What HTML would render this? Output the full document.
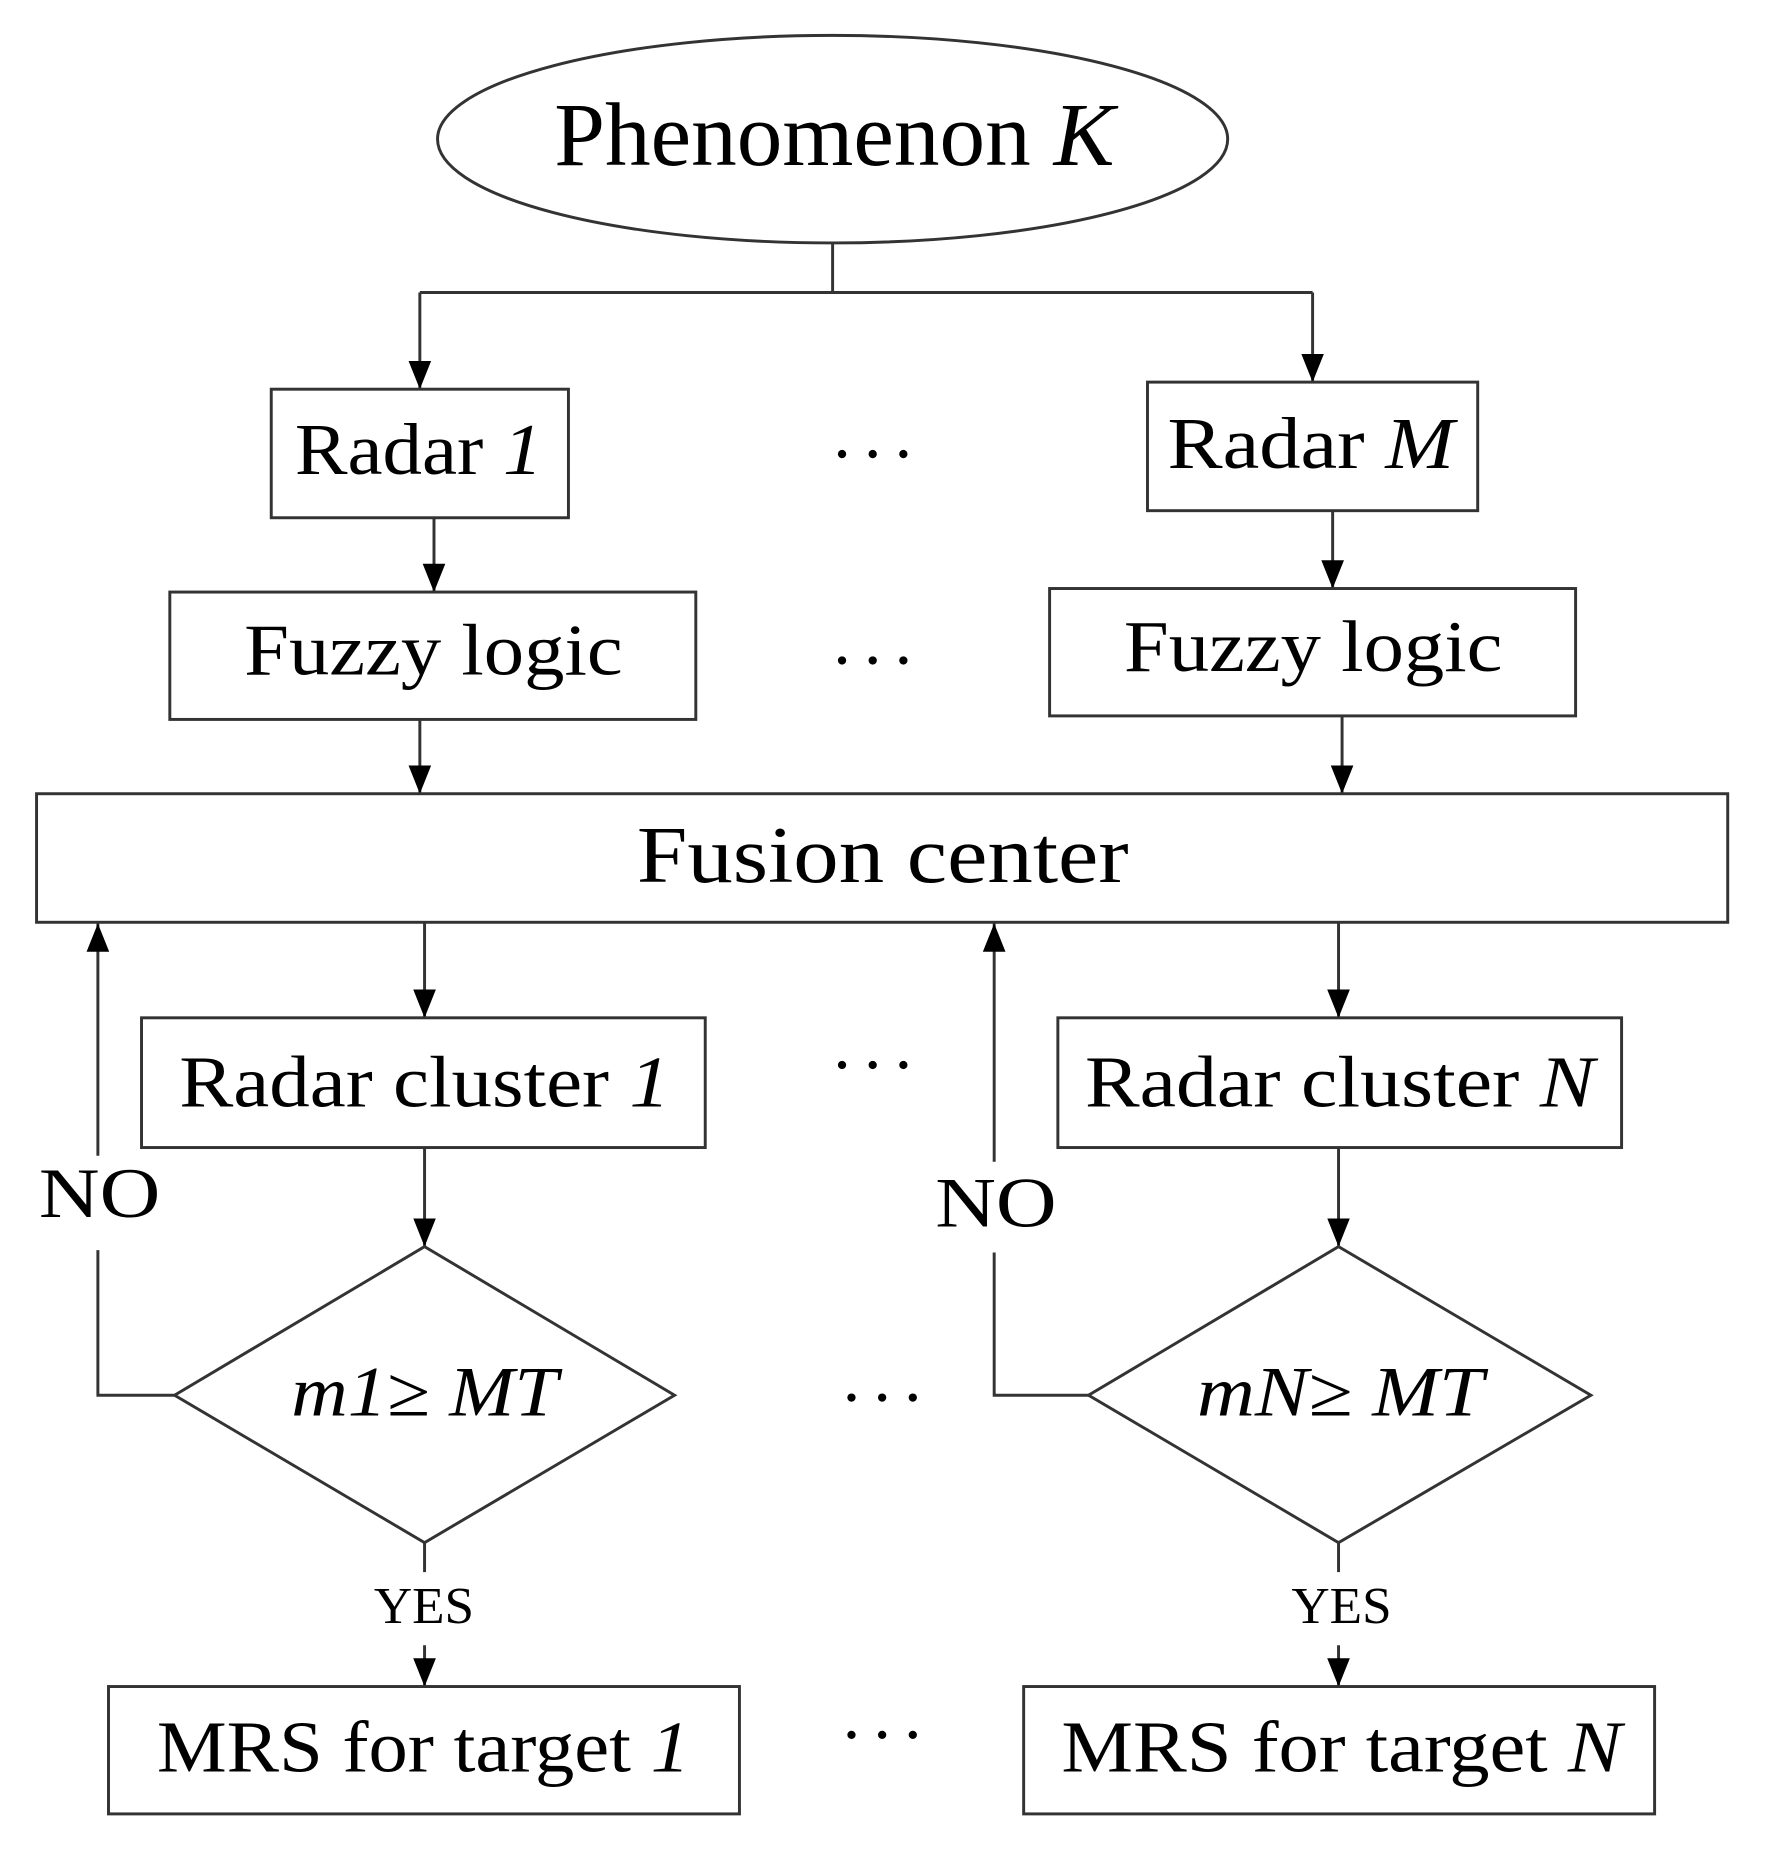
<!DOCTYPE html>
<html><head><meta charset="utf-8"><style>
html,body{margin:0;padding:0;background:#fff;}
svg{display:block;}
text{font-family:"Liberation Serif",serif;fill:#000;}
</style></head><body>
<svg width="1769" height="1854" viewBox="0 0 1500 1572" preserveAspectRatio="none" xmlns="http://www.w3.org/2000/svg">
<defs><marker id="a" markerWidth="10" markerHeight="10" refX="9" refY="5" orient="auto" markerUnits="userSpaceOnUse" viewBox="0 0 10 10"><path d="M0,0 L10,5 L0,10 z" fill="#000"/></marker>
<marker id="b" viewBox="0 0 10 10" refX="10" refY="5" markerWidth="24" markerHeight="24" orient="auto" markerUnits="userSpaceOnUse"><path d="M0,1 L10,5 L0,9 z" fill="#000"/></marker></defs>
<g stroke="#333" stroke-width="2.5" fill="none">
<ellipse cx="706" cy="118" rx="335" ry="88"/>
<polyline points="706,207 706,248"/>
<polyline points="356,248 1113,248"/>
<line x1="356" y1="248" x2="356" y2="330" marker-end="url(#b)"/>
<line x1="1113" y1="248" x2="1113" y2="324" marker-end="url(#b)"/>
<rect x="230" y="330" width="252" height="109"/>
<rect x="973" y="324" width="280" height="109"/>
<line x1="368" y1="439" x2="368" y2="502" marker-end="url(#b)"/>
<line x1="1130" y1="433" x2="1130" y2="499" marker-end="url(#b)"/>
<rect x="144" y="502" width="446" height="108"/>
<rect x="890" y="499" width="446" height="108"/>
<line x1="356" y1="610" x2="356" y2="673" marker-end="url(#b)"/>
<line x1="1138" y1="607" x2="1138" y2="673" marker-end="url(#b)"/>
<rect x="31" y="673" width="1434" height="109"/>
<line x1="360" y1="782" x2="360" y2="863" marker-end="url(#b)"/>
<line x1="1135" y1="782" x2="1135" y2="863" marker-end="url(#b)"/>
<rect x="120" y="863" width="478" height="110"/>
<rect x="897" y="863" width="478" height="110"/>
<line x1="360" y1="973" x2="360" y2="1057" marker-end="url(#b)"/>
<line x1="1135" y1="973" x2="1135" y2="1057" marker-end="url(#b)"/>
<polygon points="360,1057 572,1183 360,1308 148,1183"/>
<polygon points="1135,1057 1349,1183 1135,1308 923,1183"/>
<polyline points="148,1183 83,1183 83,1060"/>
<line x1="83" y1="980" x2="83" y2="783" marker-end="url(#b)"/>
<polyline points="923,1183 843,1183 843,1062"/>
<line x1="843" y1="985" x2="843" y2="783" marker-end="url(#b)"/>
<line x1="360" y1="1308" x2="360" y2="1333"/>
<line x1="1135" y1="1308" x2="1135" y2="1333"/>
<line x1="360" y1="1395" x2="360" y2="1430" marker-end="url(#b)"/>
<line x1="1135" y1="1395" x2="1135" y2="1430" marker-end="url(#b)"/>
<rect x="92" y="1430" width="535" height="108"/>
<rect x="868" y="1430" width="535" height="108"/>
</g>
<text x="470" y="140" font-size="76" textLength="475" lengthAdjust="spacingAndGlyphs">Phenomenon <tspan font-style="italic">K</tspan></text>
<text x="250" y="402" font-size="62" textLength="210" lengthAdjust="spacingAndGlyphs">Radar <tspan font-style="italic">1</tspan></text>
<text x="990" y="397" font-size="62" textLength="243" lengthAdjust="spacingAndGlyphs">Radar <tspan font-style="italic">M</tspan></text>
<text x="207" y="572" font-size="62" textLength="321" lengthAdjust="spacingAndGlyphs">Fuzzy logic</text>
<text x="953" y="569" font-size="62" textLength="321" lengthAdjust="spacingAndGlyphs">Fuzzy logic</text>
<text x="540" y="748" font-size="68" textLength="417" lengthAdjust="spacingAndGlyphs">Fusion center</text>
<text x="152" y="938" font-size="62" textLength="416" lengthAdjust="spacingAndGlyphs">Radar cluster <tspan font-style="italic">1</tspan></text>
<text x="920" y="938" font-size="62" textLength="432" lengthAdjust="spacingAndGlyphs">Radar cluster <tspan font-style="italic">N</tspan></text>
<text x="247" y="1200" font-size="60" font-style="italic" textLength="226" lengthAdjust="spacingAndGlyphs">m1≥ MT</text>
<text x="1015" y="1200" font-size="60" font-style="italic" textLength="243" lengthAdjust="spacingAndGlyphs">mN≥ MT</text>
<text x="33" y="1032" font-size="60" textLength="103" lengthAdjust="spacingAndGlyphs">NO</text>
<text x="793" y="1040" font-size="60" textLength="103" lengthAdjust="spacingAndGlyphs">NO</text>
<text x="317" y="1376" font-size="44" textLength="85" lengthAdjust="spacingAndGlyphs">YES</text>
<text x="1095" y="1376" font-size="44" textLength="85" lengthAdjust="spacingAndGlyphs">YES</text>
<text x="133" y="1502" font-size="62" textLength="452" lengthAdjust="spacingAndGlyphs">MRS for target <tspan font-style="italic">1</tspan></text>
<text x="900" y="1502" font-size="62" textLength="475" lengthAdjust="spacingAndGlyphs">MRS for target <tspan font-style="italic">N</tspan></text>
<g fill="#000">
<circle cx="714" cy="385" r="3.5"/><circle cx="740" cy="385" r="3.5"/><circle cx="766" cy="385" r="3.5"/>
<circle cx="714" cy="560" r="3.5"/><circle cx="740" cy="560" r="3.5"/><circle cx="766" cy="560" r="3.5"/>
<circle cx="714" cy="903" r="3.5"/><circle cx="740" cy="903" r="3.5"/><circle cx="766" cy="903" r="3.5"/>
<circle cx="722" cy="1185" r="3.5"/><circle cx="748" cy="1185" r="3.5"/><circle cx="774" cy="1185" r="3.5"/>
<circle cx="722" cy="1471" r="3.5"/><circle cx="748" cy="1471" r="3.5"/><circle cx="774" cy="1471" r="3.5"/>
</g>
</svg>
</body></html>
